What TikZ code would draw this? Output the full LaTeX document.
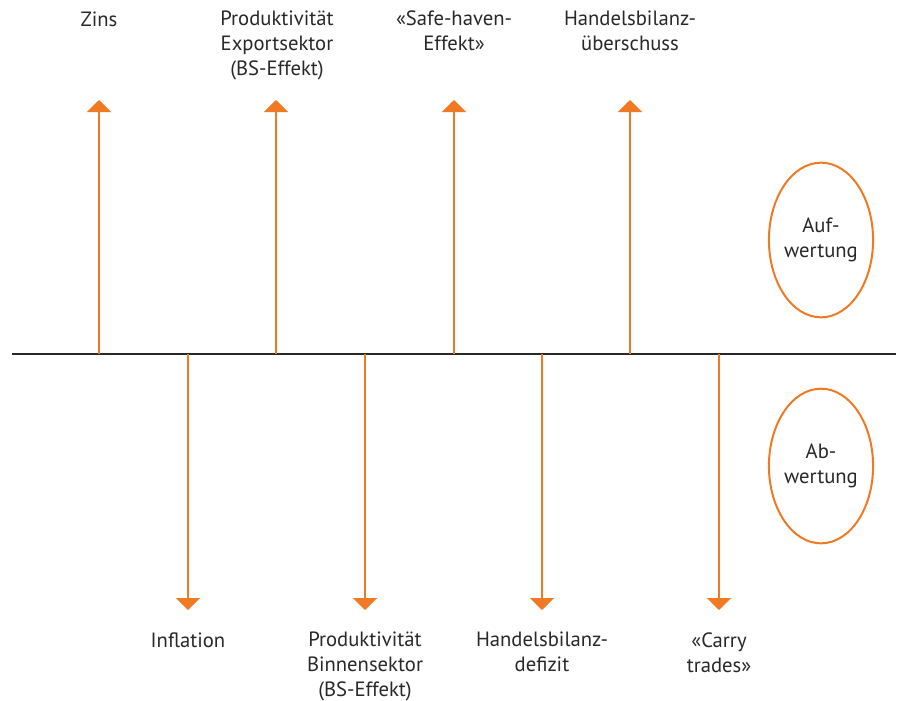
\documentclass[tikz,border=0pt]{standalone}
\usepackage{fontspec}
\setmainfont{PT Sans}
\usepackage{tikz}
\usetikzlibrary{arrows.meta,shapes.geometric}
\definecolor{orng}{RGB}{240,122,36}
\definecolor{schrift}{RGB}{40,40,40}
\tikzset{
  achse/.style={draw=schrift,line width=0.9pt},
  pfeil/.style={draw=orng,line width=1.7pt,-{Triangle[width=18pt,length=9pt]}},
  lbl/.style={align=center,inner sep=0pt,text=schrift,font=\fontsize{15.5}{18.75}\selectfont},
  oval/.style={ellipse,draw=orng,line width=1.5pt,inner sep=0pt,minimum width=73.5pt,minimum height=116pt,align=center,text=schrift,font=\fontsize{15.5}{18.75}\selectfont}
}
\begin{document}
\begin{tikzpicture}[x=0.75pt,y=-0.75pt]
\useasboundingbox (0,0) rectangle (898,700);
% Achse
\coordinate (links) at (12,354);
\coordinate (rechts) at (896,354);
\draw[achse] (links) -- (rechts);
% Aufwertung
\coordinate (zins) at (99,354);
\coordinate (exp) at (276,354);
\coordinate (safe) at (454,354);
\coordinate (hbue) at (630,354);
\coordinate (zinsT) at (99,100);
\coordinate (expT) at (276,100);
\coordinate (safeT) at (454,100);
\coordinate (hbueT) at (630,100);
\draw[pfeil] (zins) -- (zinsT);
\draw[pfeil] (exp) -- (expT);
\draw[pfeil] (safe) -- (safeT);
\draw[pfeil] (hbue) -- (hbueT);
\node[lbl,anchor=north] (zinsL) at (99,12) {Zins};
\node[lbl,anchor=north] (expL) at (277,11) {Produktivität\\Exportsektor\\(BS-Effekt)};
\node[lbl,anchor=north] (safeL) at (454,11) {«Safe-haven-\\Effekt»};
\node[lbl,anchor=north] (hbueL) at (630,11) {Handelsbilanz-\\überschuss};
% Abwertung
\coordinate (infl) at (188,354);
\coordinate (binn) at (365,354);
\coordinate (hbdf) at (542,354);
\coordinate (carry) at (719,354);
\coordinate (inflT) at (188,610);
\coordinate (binnT) at (365,610);
\coordinate (hbdfT) at (542,610);
\coordinate (carryT) at (719,610);
\draw[pfeil] (infl) -- (inflT);
\draw[pfeil] (binn) -- (binnT);
\draw[pfeil] (hbdf) -- (hbdfT);
\draw[pfeil] (carry) -- (carryT);
\node[lbl,anchor=north] (inflL) at (188,633) {Inflation};
\node[lbl,anchor=north] (binnL) at (365,632) {Produktivität\\Binnensektor\\(BS-Effekt)};
\node[lbl,anchor=north] (hbdfL) at (542,632) {Handelsbilanz-\\defizit};
\node[lbl,anchor=north] (carryL) at (719,633) {«Carry\\trades»};
% Ellipsen
\node[oval] (auf) at (821,240) {Auf-\\wertung};
\node[oval] (ab) at (821,466) {Ab-\\wertung};
\end{tikzpicture}
\end{document}
